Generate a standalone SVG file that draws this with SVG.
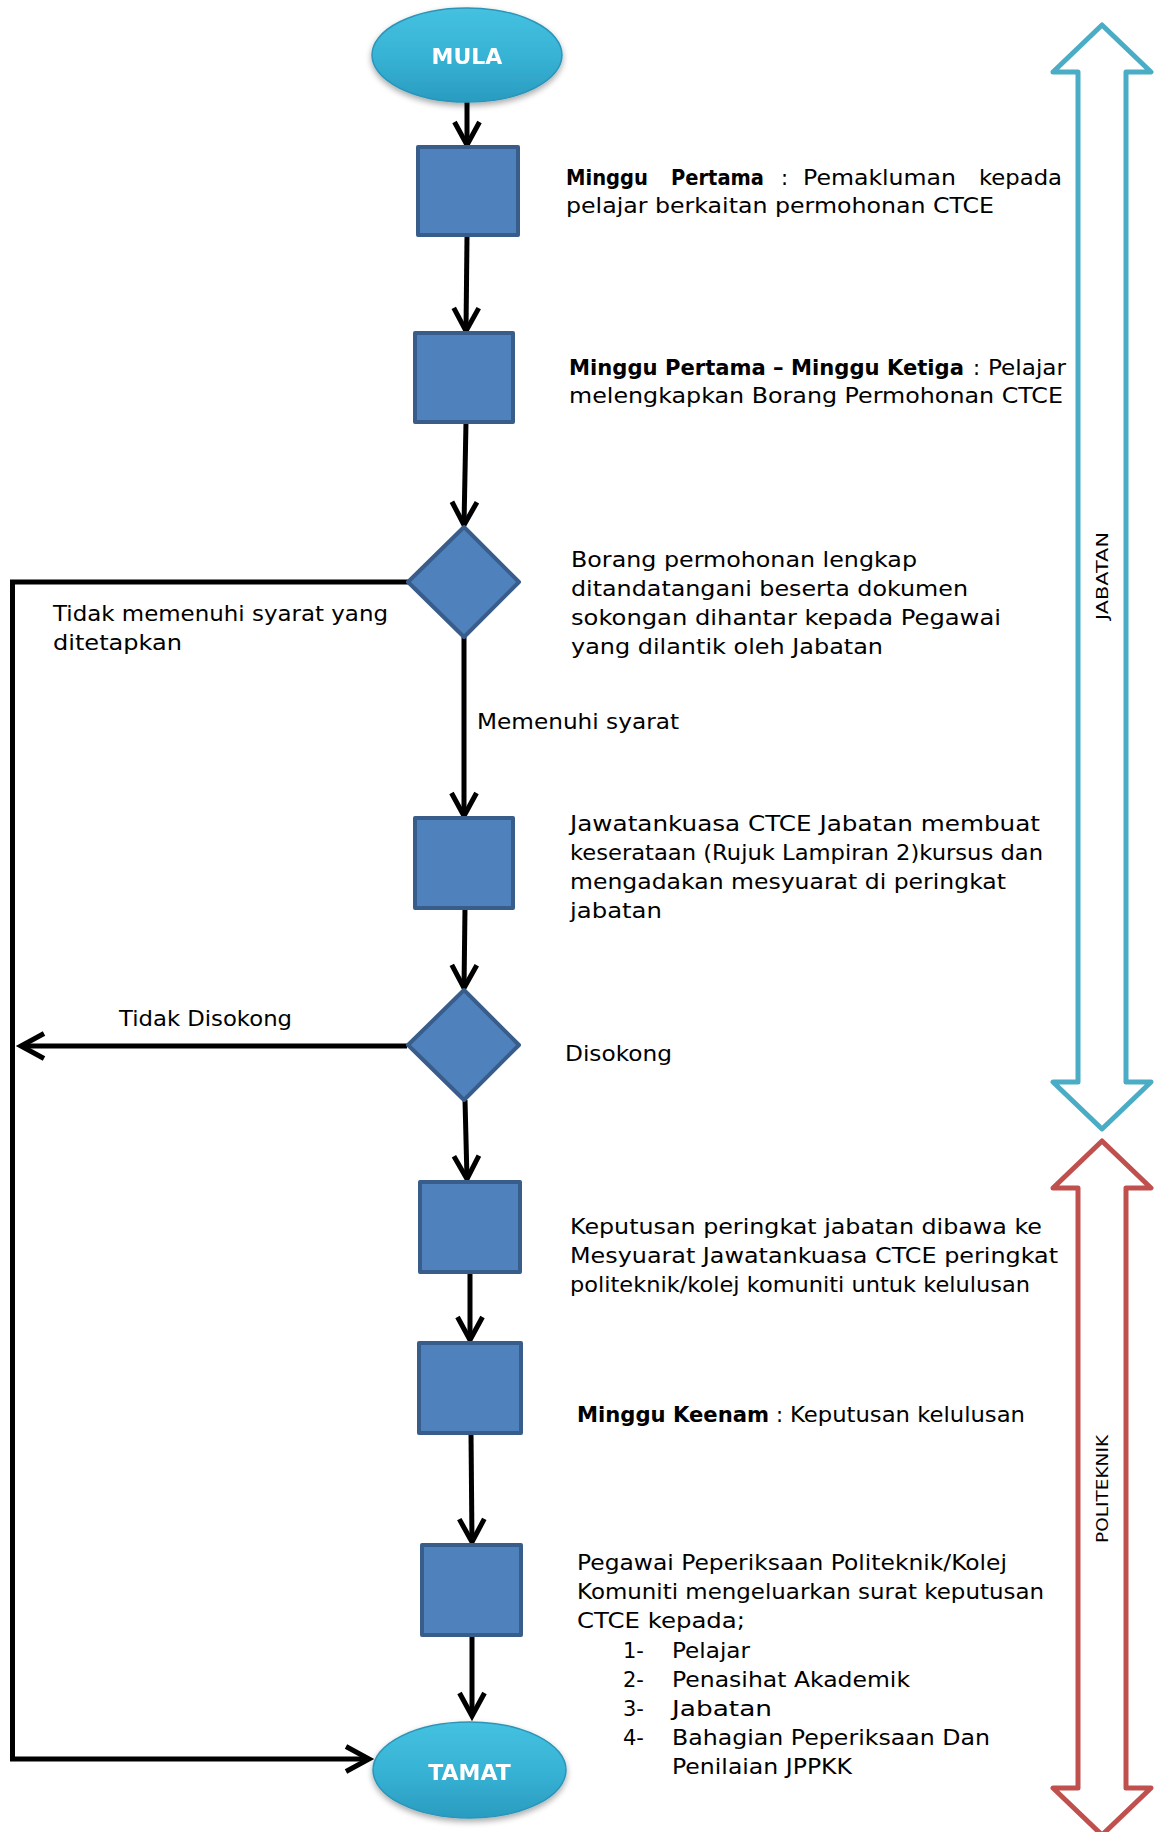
<svg xmlns="http://www.w3.org/2000/svg" width="1161" height="1832" viewBox="0 0 1161 1832">
<style>
.box{fill:#4f81bd;stroke:#385d8a;stroke-width:4;stroke-linejoin:round}
.conn{fill:none;stroke:#000;stroke-width:5}
.t{font-family:"DejaVu Sans",sans-serif;font-size:21px;fill:#000}
.b{font-weight:bold}
.term{font-family:"DejaVu Sans",sans-serif;font-size:22px;font-weight:bold;fill:#fff;text-anchor:middle}
.side{font-family:"DejaVu Sans",sans-serif;font-size:16px;fill:#000;text-anchor:middle}
</style>
<defs>
<marker id="ah" markerUnits="userSpaceOnUse" markerWidth="40" markerHeight="40" refX="23" refY="13" orient="auto" overflow="visible">
<path d="M0,0.5 L23,13 L0,25.5" fill="none" stroke="#000" stroke-width="5"/>
</marker>
<linearGradient id="eg" x1="0" y1="0" x2="0" y2="1">
<stop offset="0" stop-color="#45c1e0"/>
<stop offset="0.5" stop-color="#37b3d5"/>
<stop offset="1" stop-color="#2a9cc0"/>
</linearGradient>
<filter id="sh" x="-20%" y="-20%" width="140%" height="150%">
<feGaussianBlur in="SourceAlpha" stdDeviation="3"/>
<feOffset dy="3"/>
<feComponentTransfer><feFuncA type="linear" slope="0.35"/></feComponentTransfer>
<feMerge><feMergeNode/><feMergeNode in="SourceGraphic"/></feMerge>
</filter>
</defs>

<g id="connectors">
<path class="conn" d="M467,102 V145" marker-end="url(#ah)"/>
<path class="conn" d="M467,237 L466,331" marker-end="url(#ah)"/>
<path class="conn" d="M466,422 L464,525" marker-end="url(#ah)"/>
<path class="conn" d="M464,637 V816" marker-end="url(#ah)"/>
<path class="conn" d="M465,908 L464,988" marker-end="url(#ah)"/>
<path class="conn" d="M465,1100 L467,1179" marker-end="url(#ah)"/>
<path class="conn" d="M470,1272 V1340" marker-end="url(#ah)"/>
<path class="conn" d="M471,1433 L472,1542" marker-end="url(#ah)"/>
<path class="conn" d="M472,1635 V1716" marker-end="url(#ah)"/>
<path class="conn" d="M408,582 H12.5 V1759 H369" marker-end="url(#ah)"/>
<path class="conn" d="M407,1046 H21" marker-end="url(#ah)"/>
</g>

<g id="mula" filter="url(#sh)">
<ellipse cx="467" cy="55" rx="95" ry="47" fill="url(#eg)" stroke="#2b95b8" stroke-width="1.5"/>
<text class="term" x="467" y="64">MULA</text>
</g>
<g id="box1"><rect class="box" x="418" y="147" width="100" height="88"/></g>
<g id="box2"><rect class="box" x="415" y="333" width="98" height="89"/></g>
<g id="diamond1"><polygon class="box" points="464,527 519,582 464,637 408,582"/></g>
<g id="box3"><rect class="box" x="415" y="818" width="98" height="90"/></g>
<g id="diamond2"><polygon class="box" points="464,990 519,1045 464,1100 408,1045"/></g>
<g id="box4"><rect class="box" x="420" y="1182" width="100" height="90"/></g>
<g id="box5"><rect class="box" x="419" y="1343" width="102" height="90"/></g>
<g id="box6"><rect class="box" x="422" y="1545" width="99" height="90"/></g>
<g id="tamat" filter="url(#sh)">
<ellipse cx="469.5" cy="1770" rx="96.5" ry="48" fill="url(#eg)" stroke="#2b95b8" stroke-width="1.5"/>
<text class="term" x="469.5" y="1780">TAMAT</text>
</g>

<g id="jabatan-arrow">
<polygon points="1102,25 1151,72 1126,72 1126,1082 1151,1082 1102,1129 1053,1082 1078,1082 1078,72 1053,72" fill="none" stroke="#4bacc6" stroke-width="5" stroke-linejoin="round"/>
<text class="side" transform="translate(1108,576) rotate(-90)" textLength="88" lengthAdjust="spacingAndGlyphs">JABATAN</text>
</g>
<g id="politeknik-arrow">
<polygon points="1102,1141 1151,1188 1126,1188 1126,1788 1151,1788 1102,1835 1053,1788 1078,1788 1078,1188 1053,1188" fill="none" stroke="#c0504d" stroke-width="5" stroke-linejoin="round"/>
<text class="side" transform="translate(1108,1489) rotate(-90)" textLength="108" lengthAdjust="spacingAndGlyphs">POLITEKNIK</text>
</g>

<g id="labels">
<text class="t b" x="566" y="185" textLength="82" lengthAdjust="spacingAndGlyphs">Minggu</text>
<text class="t b" x="671" y="185" textLength="93" lengthAdjust="spacingAndGlyphs">Pertama</text>
<text class="t" x="781" y="185">:</text>
<text class="t" x="803" y="185" textLength="153" lengthAdjust="spacingAndGlyphs">Pemakluman</text>
<text class="t" x="979" y="185" textLength="83" lengthAdjust="spacingAndGlyphs">kepada</text>
<text class="t" x="566" y="213" textLength="428" lengthAdjust="spacingAndGlyphs">pelajar berkaitan permohonan CTCE</text>

<text class="t b" x="569" y="375" textLength="395" lengthAdjust="spacingAndGlyphs">Minggu Pertama – Minggu Ketiga</text>
<text class="t" x="973" y="375">:</text>
<text class="t" x="988" y="375" textLength="78" lengthAdjust="spacingAndGlyphs">Pelajar</text>
<text class="t" x="569" y="403" textLength="494" lengthAdjust="spacingAndGlyphs">melengkapkan Borang Permohonan CTCE</text>

<text class="t" x="571" y="567" textLength="346" lengthAdjust="spacingAndGlyphs">Borang permohonan lengkap</text>
<text class="t" x="571" y="596" textLength="397" lengthAdjust="spacingAndGlyphs">ditandatangani beserta dokumen</text>
<text class="t" x="571" y="625" textLength="430" lengthAdjust="spacingAndGlyphs">sokongan dihantar kepada Pegawai</text>
<text class="t" x="571" y="654" textLength="312" lengthAdjust="spacingAndGlyphs">yang dilantik oleh Jabatan</text>

<text class="t" x="53" y="621" textLength="335" lengthAdjust="spacingAndGlyphs">Tidak memenuhi syarat yang</text>
<text class="t" x="53" y="650" textLength="129" lengthAdjust="spacingAndGlyphs">ditetapkan</text>

<text class="t" x="477" y="729" textLength="202" lengthAdjust="spacingAndGlyphs">Memenuhi syarat</text>

<text class="t" x="570" y="831" textLength="470" lengthAdjust="spacingAndGlyphs">Jawatankuasa CTCE Jabatan membuat</text>
<text class="t" x="570" y="860" textLength="473" lengthAdjust="spacingAndGlyphs">keserataan (Rujuk Lampiran 2)kursus dan</text>
<text class="t" x="570" y="889" textLength="436" lengthAdjust="spacingAndGlyphs">mengadakan mesyuarat di peringkat</text>
<text class="t" x="570" y="918" textLength="92" lengthAdjust="spacingAndGlyphs">jabatan</text>

<text class="t" x="119" y="1026" textLength="173" lengthAdjust="spacingAndGlyphs">Tidak Disokong</text>
<text class="t" x="565" y="1061" textLength="107" lengthAdjust="spacingAndGlyphs">Disokong</text>

<text class="t" x="570" y="1234" textLength="472" lengthAdjust="spacingAndGlyphs">Keputusan peringkat jabatan dibawa ke</text>
<text class="t" x="570" y="1263" textLength="488" lengthAdjust="spacingAndGlyphs">Mesyuarat Jawatankuasa CTCE peringkat</text>
<text class="t" x="570" y="1292" textLength="460" lengthAdjust="spacingAndGlyphs">politeknik/kolej komuniti untuk kelulusan</text>

<text class="t b" x="577" y="1422" textLength="192" lengthAdjust="spacingAndGlyphs">Minggu Keenam</text>
<text class="t" x="776" y="1422">:</text>
<text class="t" x="790" y="1422" textLength="235" lengthAdjust="spacingAndGlyphs">Keputusan kelulusan</text>

<text class="t" x="577" y="1570" textLength="430" lengthAdjust="spacingAndGlyphs">Pegawai Peperiksaan Politeknik/Kolej</text>
<text class="t" x="577" y="1599" textLength="467" lengthAdjust="spacingAndGlyphs">Komuniti mengeluarkan surat keputusan</text>
<text class="t" x="577" y="1628" textLength="168" lengthAdjust="spacingAndGlyphs">CTCE kepada;</text>
<text class="t" x="623" y="1658">1-</text>
<text class="t" x="672" y="1658" textLength="78" lengthAdjust="spacingAndGlyphs">Pelajar</text>
<text class="t" x="623" y="1687">2-</text>
<text class="t" x="672" y="1687" textLength="238" lengthAdjust="spacingAndGlyphs">Penasihat Akademik</text>
<text class="t" x="623" y="1716">3-</text>
<text class="t" x="672" y="1716" textLength="100" lengthAdjust="spacingAndGlyphs">Jabatan</text>
<text class="t" x="623" y="1745">4-</text>
<text class="t" x="672" y="1745" textLength="318" lengthAdjust="spacingAndGlyphs">Bahagian Peperiksaan Dan</text>
<text class="t" x="672" y="1774" textLength="180" lengthAdjust="spacingAndGlyphs">Penilaian JPPKK</text>
</g>
</svg>
